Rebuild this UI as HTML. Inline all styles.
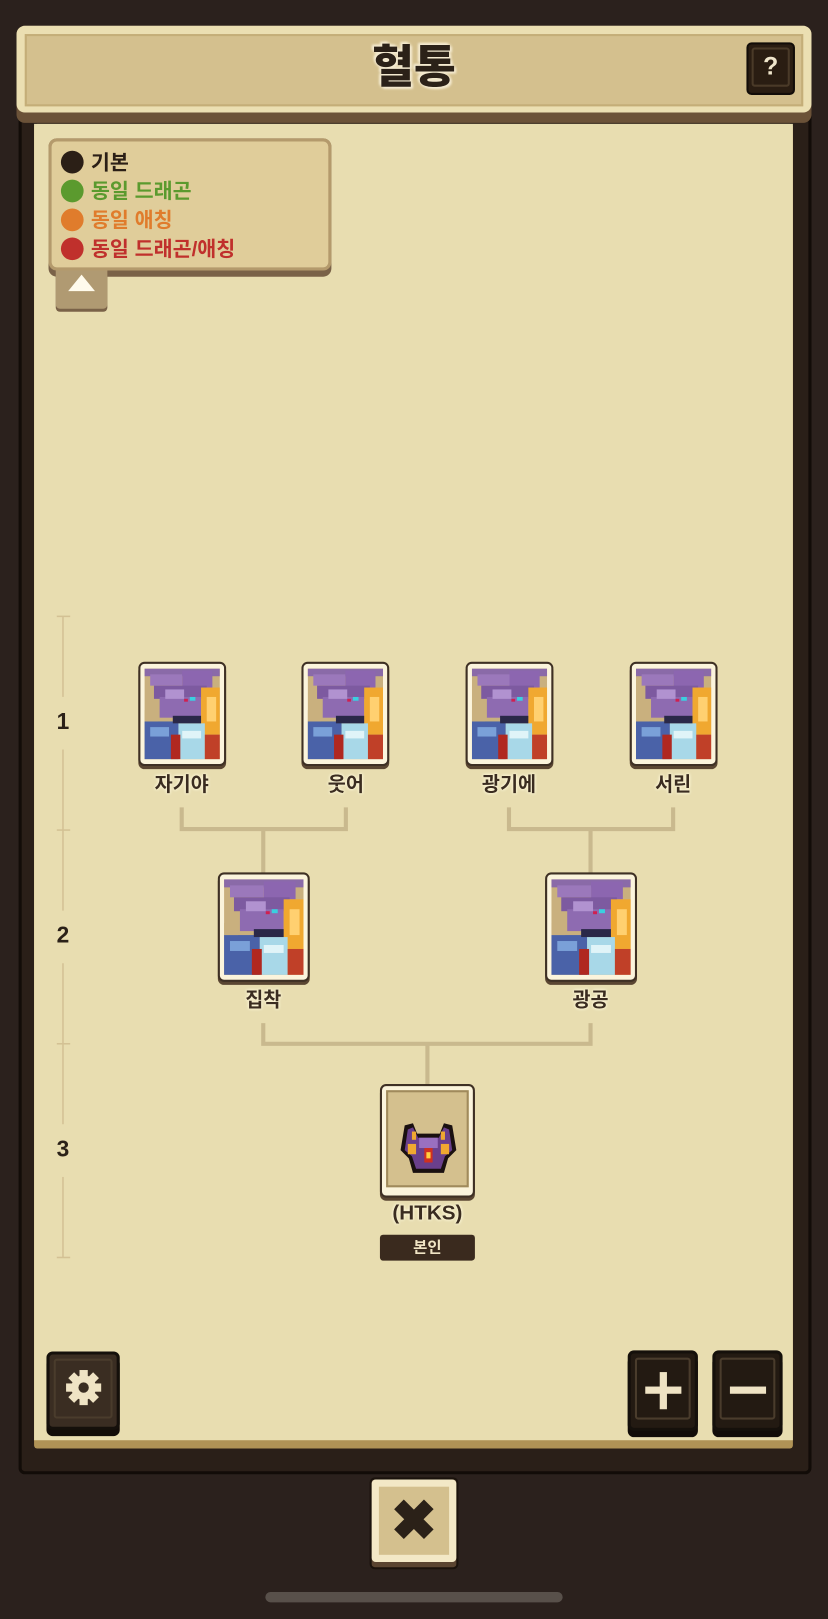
<!DOCTYPE html>
<html><head><meta charset="utf-8">
<style>
*{margin:0;padding:0;box-sizing:border-box}
html,body{width:828px;height:1618px;overflow:hidden;background:#2b211d}
#w{position:absolute;left:0;top:0;width:802px;height:1568px;transform:scale(1.03242);transform-origin:0 0;font-family:"Liberation Sans","Noto Sans CJK KR",sans-serif}
.a{position:absolute}
.lbl{position:absolute;font-size:19px;font-weight:bold;color:#3a2c20;text-align:center;width:140px;text-shadow:0 0 3px #fff8dc,0 0 3px #fff8dc}
.card{position:absolute;background:#fbf4dc;border:2px solid #3e3024;border-radius:6px;box-shadow:0 3px 0 #5a4632}
.card svg{position:absolute;left:4px;top:4px}
.dk{position:absolute;background:#231a12;border:3px solid #15100b;border-radius:6px;box-shadow:0 6px 0 #120c08}
.dk .in{position:absolute;left:4px;top:4px;right:4px;bottom:8px;border:2px solid #4a3c2c;border-radius:3px}
</style></head><body>
<div id="w">
<svg width="0" height="0" style="position:absolute">
<defs>
<symbol id="dr" viewBox="0 0 80 96">
<rect width="80" height="96" fill="#c9b07e"/>
<rect x="0" y="0" width="80" height="8" fill="#8a6aa8"/>
<rect x="6" y="6" width="34" height="12" fill="#9b78bb"/>
<rect x="40" y="2" width="32" height="18" fill="#8c66b0"/>
<rect x="10" y="18" width="56" height="14" fill="#7d5aa0"/>
<rect x="16" y="30" width="44" height="22" fill="#8e6bb1"/>
<rect x="22" y="22" width="20" height="10" fill="#b192d0"/>
<rect x="48" y="30" width="6" height="4" fill="#3ad0e0"/>
<rect x="42" y="32" width="4" height="3" fill="#d02050"/>
<rect x="60" y="20" width="20" height="50" fill="#f0a830"/>
<rect x="66" y="30" width="10" height="26" fill="#ffd070"/>
<rect x="0" y="56" width="36" height="40" fill="#4a62a8"/>
<rect x="6" y="62" width="20" height="10" fill="#7aa0d8"/>
<rect x="36" y="58" width="28" height="38" fill="#a8d8e8"/>
<rect x="40" y="66" width="20" height="8" fill="#e0f4f8"/>
<rect x="28" y="70" width="10" height="26" fill="#b02820"/>
<rect x="64" y="70" width="16" height="26" fill="#c04028"/>
<rect x="30" y="50" width="30" height="8" fill="#2a2848"/>
<rect x="0" y="44" width="14" height="12" fill="#c9b07e"/>
</symbol>
</defs>
</svg>

<!-- main frame -->
<div class="a" style="left:18px;top:105px;width:768px;height:1323px;background:#2a1f18;border:3px solid #120c08;border-radius:6px"></div>
<div class="a" style="left:33px;top:120px;width:735px;height:1283px;background:#b09356;border-radius:3px"></div>
<div class="a" style="left:33px;top:120px;width:735px;height:1275px;background:#e8ddb0"></div>

<!-- header -->
<div class="a" style="left:16px;top:25px;width:770px;height:94px;background:#6b5238;border-radius:8px"></div>
<div class="a" style="left:16px;top:25px;width:770px;height:84px;background:#ebdfb2;border-radius:8px"></div>
<div class="a" style="left:24px;top:33px;width:754px;height:70px;background:#d4c08e;border:2px solid #c4ae78"></div>
<div class="a" style="left:0;top:34px;width:802px;text-align:center;font-size:44px;font-weight:900;color:#2b2118;line-height:64px;text-shadow:0 0 3px #f4ead0,0 0 3px #f4ead0,2px 2px 2px #f4ead0,-2px -2px 2px #f4ead0">혈통</div>
<div class="a" style="left:723px;top:41px;width:47px;height:51px;background:#2a1d12;border:2px solid #120c08;border-radius:5px"><div style="position:absolute;left:3px;top:3px;right:3px;bottom:6px;border:2px solid #4a3a28;border-radius:3px;color:#f0e6cc;font-weight:bold;font-size:24px;text-align:center;line-height:34px">?</div></div>

<!-- legend -->
<div class="a" style="left:47px;top:134px;width:274px;height:134px;background:#7a6248;border-radius:8px"></div>
<div class="a" style="left:47px;top:134px;width:274px;height:128px;background:#e0cd9a;border:3px solid #b49a6c;border-radius:8px"></div>
<div class="a" style="left:54px;top:262px;width:50px;height:37px;background:#b09a72;border-radius:0 0 4px 4px;box-shadow:0 3px 0 #7a6248"></div>
<div class="a" style="left:66px;top:266px;width:0;height:0;border-left:13px solid transparent;border-right:13px solid transparent;border-bottom:16px solid #fffbec"></div>
<div class="a" style="left:59px;top:144px;font-size:20px;font-weight:bold;line-height:28px">
<div style="color:#2b1f16"><span style="display:inline-block;width:22px;height:22px;border-radius:50%;background:#2b1f16;vertical-align:-4px;margin-right:7px"></span>기본</div>
<div style="color:#5b9a2e"><span style="display:inline-block;width:22px;height:22px;border-radius:50%;background:#5b9a2e;vertical-align:-4px;margin-right:7px"></span>동일 드래곤</div>
<div style="color:#e07c2c"><span style="display:inline-block;width:22px;height:22px;border-radius:50%;background:#e07c2c;vertical-align:-4px;margin-right:7px"></span>동일 애칭</div>
<div style="color:#c0302c"><span style="display:inline-block;width:22px;height:22px;border-radius:50%;background:#c0302c;vertical-align:-4px;margin-right:7px"></span>동일 드래곤/애칭</div>
</div>

<!-- scale -->
<svg class="a" style="left:0;top:0" width="802" height="1568">
<g stroke="#d3c194" stroke-width="1.5" fill="none">
<line x1="61" y1="597" x2="61" y2="675"/><line x1="61" y1="726" x2="61" y2="882"/>
<line x1="61" y1="933" x2="61" y2="1089"/><line x1="61" y1="1140" x2="61" y2="1218"/>
<line x1="55" y1="597" x2="68" y2="597"/><line x1="55" y1="804" x2="68" y2="804"/>
<line x1="55" y1="1011" x2="68" y2="1011"/><line x1="55" y1="1218" x2="68" y2="1218"/>
</g>
<g stroke="#c9b98e" stroke-width="4" fill="none">
<path d="M176 782 V803 H335 V782 M255 803 V847"/>
<path d="M493 782 V803 H652 V782 M572 803 V847"/>
<path d="M255 991 V1011 H572 V991 M414 1011 V1052"/>
</g>
</svg>
<div class="a" style="left:46px;top:686px;width:30px;text-align:center;font-size:22px;font-weight:bold;color:#2b2118">1</div>
<div class="a" style="left:46px;top:893px;width:30px;text-align:center;font-size:22px;font-weight:bold;color:#2b2118">2</div>
<div class="a" style="left:46px;top:1100px;width:30px;text-align:center;font-size:22px;font-weight:bold;color:#2b2118">3</div>

<!-- row1 -->
<div class="card" style="left:134px;top:641px;width:85px;height:101px"><svg width="73" height="89"><use href="#dr"/></svg></div>
<div class="card" style="left:292px;top:641px;width:85px;height:101px"><svg width="73" height="89"><use href="#dr"/></svg></div>
<div class="card" style="left:451px;top:641px;width:85px;height:101px"><svg width="73" height="89"><use href="#dr"/></svg></div>
<div class="card" style="left:610px;top:641px;width:85px;height:101px"><svg width="73" height="89"><use href="#dr"/></svg></div>
<div class="lbl" style="left:106px;top:745px">자기야</div>
<div class="lbl" style="left:265px;top:745px">웃어</div>
<div class="lbl" style="left:423px;top:745px">광기에</div>
<div class="lbl" style="left:582px;top:745px">서린</div>

<!-- row2 -->
<div class="card" style="left:211px;top:845px;width:89px;height:106px"><svg width="77" height="94"><use href="#dr"/></svg></div>
<div class="card" style="left:528px;top:845px;width:89px;height:106px"><svg width="77" height="94"><use href="#dr"/></svg></div>
<div class="lbl" style="left:185px;top:954px">집착</div>
<div class="lbl" style="left:502px;top:954px">광공</div>

<!-- row3 -->
<div class="card" style="left:368px;top:1050px;width:92px;height:110px;background:#fbf4dc">
<div style="position:absolute;left:4px;top:4px;right:4px;bottom:8px;background:#d4c08e;border:2px solid #a08a5c"></div>
<svg style="left:16px;top:34px" width="58" height="54" viewBox="0 0 58 54">
<path d="M6 4 L14 2 L18 12 L40 12 L44 2 L52 4 L56 28 L48 36 L44 50 L14 50 L10 36 L2 28 Z" fill="#1a1010"/>
<path d="M9 8 L14 6 L19 16 L39 16 L44 6 L49 8 L52 28 L45 34 L41 46 L17 46 L13 34 L6 28 Z" fill="#6a3f8c"/>
<rect x="20" y="16" width="18" height="10" fill="#9a70c0"/>
<rect x="9" y="22" width="8" height="10" fill="#f0a830"/><rect x="41" y="22" width="8" height="10" fill="#f0a830"/>
<rect x="25" y="26" width="8" height="14" fill="#d03020"/><rect x="27" y="30" width="4" height="6" fill="#ffd040"/>
<rect x="13" y="10" width="4" height="8" fill="#f0a830"/><rect x="41" y="10" width="4" height="8" fill="#f0a830"/>
</svg></div>
<div class="lbl" style="left:344px;top:1164px;font-size:20px">(HTKS)</div>
<div class="a" style="left:368px;top:1196px;width:92px;height:25px;background:#3a2a1e;border-radius:3px;color:#f0e4c4;font-size:15px;font-weight:bold;text-align:center;line-height:25px">본인</div>

<!-- buttons -->
<div class="dk" style="left:45px;top:1309px;width:71px;height:76px;background:#3a2d22"><div class="in"></div>
<svg class="a" style="left:14px;top:13px" width="38" height="38" viewBox="0 0 38 38"><g fill="#efe3c4" transform="translate(19 19)">
<circle r="12"/><rect x="-4" y="-17" width="8" height="34"/><rect x="-17" y="-4" width="34" height="8"/>
<rect x="-4" y="-17" width="8" height="34" transform="rotate(45)"/><rect x="-4" y="-17" width="8" height="34" transform="rotate(-45)"/></g>
<circle cx="19" cy="19" r="5" fill="#3a2d22"/></svg></div>
<div class="dk" style="left:608px;top:1308px;width:68px;height:78px"><div class="in"></div>
<div class="a" style="left:28px;top:18px;width:7px;height:36px;background:#efe3c4"></div><div class="a" style="left:14px;top:32px;width:35px;height:7px;background:#efe3c4"></div></div>
<div class="dk" style="left:690px;top:1308px;width:68px;height:78px"><div class="in"></div>
<div class="a" style="left:14px;top:32px;width:35px;height:7px;background:#efe3c4"></div></div>

<!-- close -->
<div class="a" style="left:358px;top:1431px;width:86px;height:89px;background:#5a4430;border:2px solid #1a120c;border-radius:5px"></div>
<div class="a" style="left:360px;top:1433px;width:82px;height:80px;background:#f3e8c6;border-radius:4px"></div>
<div class="a" style="left:367px;top:1440px;width:68px;height:66px;background:#d4c08e"></div>
<div class="a" style="left:358px;top:1440px;width:86px;text-align:center;font-size:54px;font-weight:900;color:#2b2118;line-height:66px">✖</div>

<div class="a" style="left:257px;top:1542px;width:288px;height:10px;background:#58504a;border-radius:5px"></div>
</div>
</body></html>
